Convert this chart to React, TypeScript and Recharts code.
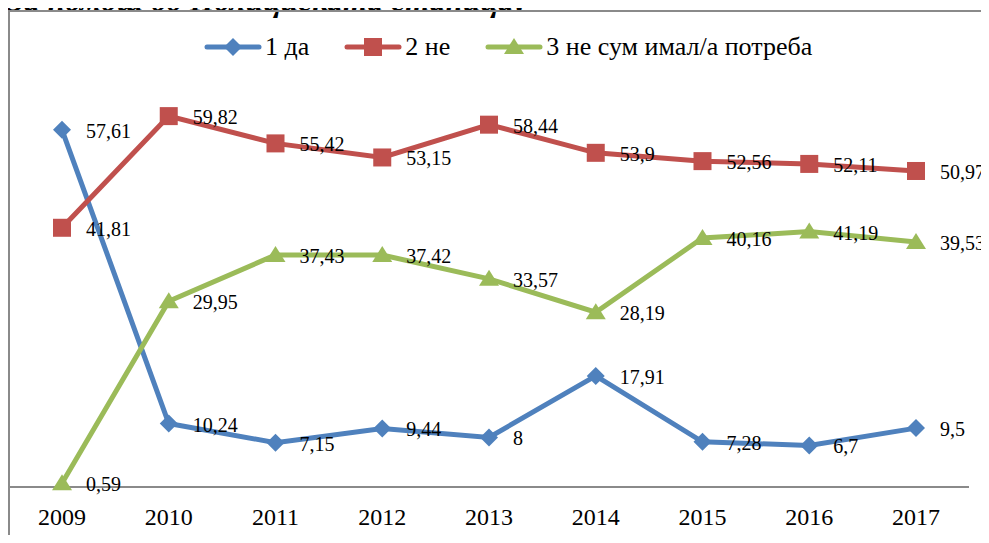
import { LabelList, Line, LineChart, XAxis, YAxis } from "recharts";

const years = ["2009", "2010", "2011", "2012", "2013", "2014", "2015", "2016", "2017"];
const da = [57.61, 10.24, 7.15, 9.44, 8, 17.91, 7.28, 6.7, 9.5];
const ne = [41.81, 59.82, 55.42, 53.15, 58.44, 53.9, 52.56, 52.11, 50.97];
const nemav = [0.59, 29.95, 37.43, 37.42, 33.57, 28.19, 40.16, 41.19, 39.53];

const BLUE = "#4F81BD";
const RED = "#C0504D";
const GREEN = "#9BBB59";
const FONT = "Liberation Serif, DejaVu Serif, Times New Roman, serif";

const data = years.map((year, i) => ({ year, da: da[i], ne: ne[i], nemav: nemav[i] }));

const series = [
  { key: "da", name: "1 да", color: BLUE, shape: "diamond" },
  { key: "ne", name: "2 не", color: RED, shape: "square" },
  { key: "nemav", name: "3 не сум имал/а потреба", color: GREEN, shape: "triangle" },
];

function Marker({ cx, cy, color, shape }: { cx: number; cy: number; color: string; shape: string }) {
  if (cx == null || cy == null) return null;
  if (shape === "diamond") {
    return <path d={`M${cx},${cy - 9} L${cx + 9},${cy} L${cx},${cy + 9} L${cx - 9},${cy} Z`} fill={color} />;
  }
  if (shape === "square") {
    return <rect x={cx - 9} y={cy - 9} width={18} height={18} fill={color} />;
  }
  return <path d={`M${cx},${cy - 9} L${cx + 10},${cy + 7} L${cx - 10},${cy + 7} Z`} fill={color} />;
}

function ValueLabel(props: any) {
  const { x, y, value } = props;
  return (
    <text x={x + 24} y={y + 1} dominantBaseline="central" style={{ fontSize: 20, fontFamily: FONT }} fill="#000">
      {String(value).replace(".", ",")}
    </text>
  );
}

function LegendIcon({ color, shape }: { color: string; shape: string }) {
  return (
    <svg width={58} height={22} style={{ display: "block" }}>
      <line x1={3} y1={11} x2={55} y2={11} stroke={color} strokeWidth={5} strokeLinecap="round" />
      <Marker cx={29} cy={11} color={color} shape={shape} />
    </svg>
  );
}

export default function App() {
  return (
    <div style={{ position: "relative", width: 989, height: 543, margin: -8, background: "#fff", overflow: "hidden", fontFamily: FONT }}>
      <div
        style={{
          position: "absolute",
          left: 8,
          top: -17,
          fontWeight: "bold",
          fontStyle: "italic",
          fontSize: 31.5,
          whiteSpace: "nowrap",
          color: "#000",
        }}
      >
        За помош од Полициската станица?
      </div>
      <div
        style={{
          position: "absolute",
          left: 8,
          top: 10,
          width: 1000,
          height: 600,
          borderLeft: "2px solid #8a8a8a",
          borderTop: "2px solid #8a8a8a",
        }}
      />
      <div
        style={{
          position: "absolute",
          top: 33,
          left: 204,
          display: "flex",
          alignItems: "center",
          gap: 35,
          fontSize: 26,
          lineHeight: "28px",
          whiteSpace: "nowrap",
        }}
      >
        {series.map((s) => (
          <div key={s.key} style={{ display: "flex", alignItems: "center", gap: 3 }}>
            <LegendIcon color={s.color} shape={s.shape} />
            <span>{s.name}</span>
          </div>
        ))}
      </div>
      <div style={{ position: "absolute", left: 0, top: 0 }}>
        <LineChart width={989} height={543} data={data} margin={{ top: 53, right: 20, left: 9, bottom: 26 }}>
          <XAxis
            dataKey="year"
            height={30}
            padding={{ left: 53, right: 53 }}
            tickLine={false}
            tickSize={0}
            tickMargin={21}
            axisLine={{ stroke: "#8a8a8a", strokeWidth: 2 }}
            tick={{ fontSize: 24, fontFamily: FONT, fill: "#000" }}
          />
          <YAxis hide domain={[0, 70]} />
          {series.map((s) => (
            <Line
              key={s.key}
              dataKey={s.key}
              name={s.name}
              stroke={s.color}
              strokeWidth={5}
              isAnimationActive={false}
              dot={(p: any) => <Marker key={p.index} cx={p.cx} cy={p.cy} color={s.color} shape={s.shape} />}
              activeDot={false}
            >
              <LabelList dataKey={s.key} content={ValueLabel} />
            </Line>
          ))}
        </LineChart>
      </div>
    </div>
  );
}
